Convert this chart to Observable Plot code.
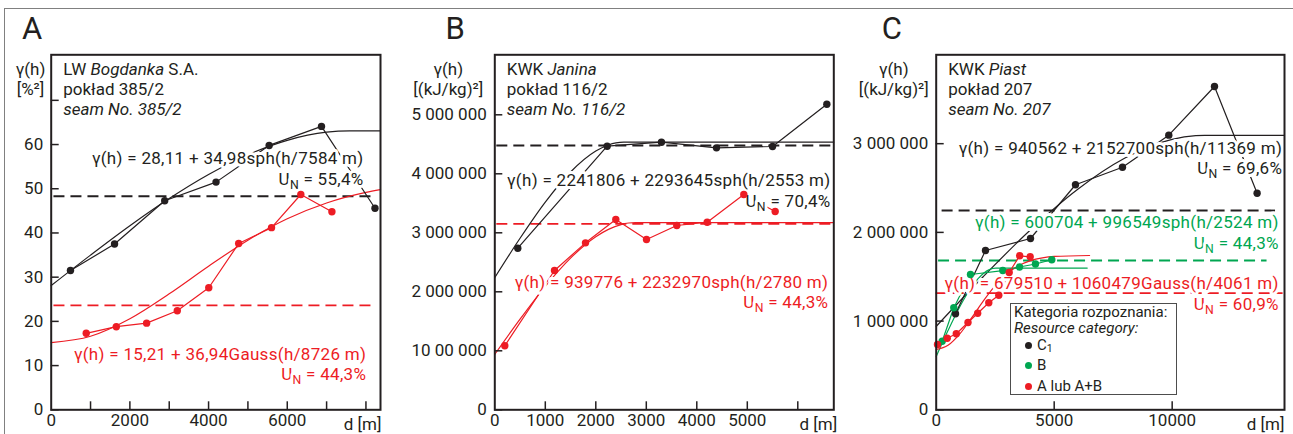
<!DOCTYPE html>
<html><head><meta charset="utf-8">
<script src="https://cdn.jsdelivr.net/npm/d3@7"></script>
<script src="https://cdn.jsdelivr.net/npm/@observablehq/plot@0.6"></script>
<style>
html,body{margin:0;padding:0;background:#fff;}
#wrap{position:relative;width:1293px;height:434px;overflow:hidden;font-family:Roboto,sans-serif;color:#231f20;}
#wrap svg{position:absolute;left:0;top:0;}
#border{position:absolute;left:4px;top:8px;width:1400px;height:500px;border-top:1.5px solid #808080;border-left:1.5px solid #808080;}
.legend{position:absolute;left:1010px;top:303px;width:167px;height:92px;border:1.3px solid #4d4d4d;background:#fff;box-sizing:border-box;font-size:15px;z-index:5;}
.legend .ln{position:absolute;left:3px;line-height:15px;white-space:nowrap;}
.legend .dot{position:absolute;left:14px;width:7px;height:7px;border-radius:50%;}
.legend sub{font-size:70%;line-height:0;vertical-align:-2px;}
</style></head>
<body>
<div id="wrap"><div id="border"></div></div>
<script>
const BLACK = "#231f20", RED = "#ed1c24", GREEN = "#00a651";

// ---------- Panel A: LW Bogdanka, seam 385/2 ----------
const aLagC1   = [490, 1610, 2885, 4190, 5540, 6870, 8230];
const aGammaC1 = [31.5, 37.5, 47.3, 51.5, 59.8, 64.1, 45.6];
const aLagA    = [890, 1655, 2425, 3205, 4005, 4765, 5600, 6345, 7135];
const aGammaA  = [17.3, 18.8, 19.6, 22.4, 27.6, 37.6, 41.2, 48.7, 44.8];
const aFitLagC1 = [0, 1000, 2000, 3000, 4000, 5000, 6000, 7000, 7584, 8370];
const aFitC1    = [28.11, 34.99, 41.63, 47.78, 53.22, 57.69, 60.96, 62.79, 63.09, 63.09];
const aFitLagA  = [0, 1000, 2000, 3000, 4000, 5000, 6000, 7000, 8000, 8370];
const aFitA     = [15.21, 16.64, 20.60, 26.24, 32.48, 38.36, 43.21, 46.79, 49.18, 49.81];
const aVariance = [48.3, 23.6];            // C1, A
const aVarSpan  = [70, 8130];
const aYTicks   = [0, 10, 20, 30, 40, 50, 60, 70];
const aYLabels  = [0, 10, 20, 30, 40, 50, 60];
const aXTicks   = [1000, 2000, 3000, 4000, 5000, 6000, 7000, 8000];
const aXLabels  = [0, 2000, 4000, 6000];

// ---------- Panel B: KWK Janina, seam 116/2 ----------
const bLagC1   = [455, 2225, 3300, 4390, 5500, 6575];
const bGammaC1 = [2739000, 4468000, 4536000, 4440000, 4463000, 5180000];
const bLagA    = [198, 1182, 1796, 2396, 3004, 3604, 4206, 4931, 5552];
const bGammaA  = [1085000, 2361000, 2830000, 3225000, 2886000, 3124000, 3180000, 3649000, 3361000];
const bFitLagC1 = [0, 500, 1000, 1500, 2000, 2250, 2400, 2553, 6710];
const bFitC1    = [2241806, 2907000, 3520500, 4030600, 4385700, 4488900, 4523300, 4535451, 4535451];
const bFitLagA  = [0, 500, 1000, 1500, 2000, 2250, 2500, 2650, 2780, 6710];
const bFitA     = [939776, 1535800, 2092700, 2571700, 2933800, 3058700, 3139900, 3165700, 3172746, 3172746];
const bVariance = [4480000, 3150000];
const bVarSpan  = [40, 6710];
const bYTicks   = [0, 1000000, 2000000, 3000000, 4000000, 5000000];
const bYLabels  = ["0", "10 00 000", "2 000 000", "3 000 000", "4 000 000", "5 000 000"];
const bXTicks   = [1000, 2000, 3000, 4000, 5000, 6000];
const bXLabels  = [0, 1000, 2000, 3000, 4000, 5000];

// ---------- Panel C: KWK Piast, seam 207 ----------
const cLagC1   = [818, 2089, 3996, 5903, 7894, 9857, 11793, 13600];
const cGammaC1 = [1082000, 1796000, 1931000, 2537000, 2735000, 3096000, 3645000, 2442000];
const cLagB    = [254, 746, 1453, 2822, 3530, 4207, 4898];
const cGammaB  = [773000, 1150000, 1525000, 1570000, 1610000, 1644000, 1692000];
const cLagA    = [55, 466, 852, 1347, 1758, 2229, 2652, 3093, 3538, 3983];
const cGammaA  = [736000, 806000, 857000, 984000, 1089000, 1207000, 1292000, 1548000, 1736000, 1725000];
const cFitLagC1 = [0, 2000, 4000, 6000, 8000, 9000, 10000, 11000, 11369, 14760];
const cFitC1    = [940562, 1502800, 2029900, 2486500, 2837700, 2962800, 3048300, 3090000, 3093262, 3093262];
const cFitLagB  = [0, 500, 1000, 1500, 2000, 2250, 2524, 6400];
const cFitB     = [600704, 892900, 1162000, 1384500, 1537300, 1580200, 1597253, 1597253];
const cFitLagA  = [0, 500, 1000, 1500, 2000, 2500, 3000, 3500, 4000, 4500, 5000, 6500];
const cFitA     = [679510, 726700, 855900, 1035700, 1227700, 1399800, 1533700, 1625800, 1682300, 1713300, 1728800, 1739600];
const cVariance = [2247000, 1683000, 1315000];   // C1, B, A
const cVarSpans = [[250, 14380], [100, 14020], [0, 14700]];
const cYTicks   = [0, 1000000, 2000000, 3000000];
const cYLabels  = ["0", "1 000 000", "2 000 000", "3 000 000"];
const cXTicks   = [5000, 10000];
const cXLabels  = [0, 5000, 10000];

const legendCategories = ["C_1", "B", "A lub A+B"];
const legendColors = [BLACK, GREEN, RED];

const rows = (xs, ys) => xs.map((x, i) => ({x, y: ys[i]}));

const TOP = 54.3, BOTTOM = 24.7, H = 434, W = 1293;
const FRAME_H = H - TOP - BOTTOM;
const FS = 17;

function ann(x, y, text, fill) {
  return Plot.text([{x, y, text}], {x: "x", y: "y", text: "text", fill, textAnchor: "end",
    fontSize: FS, stroke: "white", strokeWidth: 6, paintOrder: "stroke", lineAnchor: "middle"});
}
function fixed(text, opts) {
  return Plot.text([text], {text: d => d, frameAnchor: "top-left", textAnchor: "start", lineAnchor: "middle", fill: BLACK, fontSize: 17, ...opts});
}
function dashed(v, span, stroke) {
  return Plot.ruleY([v], {y: d => d, x1: span[0], x2: span[1], stroke, strokeWidth: 1.8, strokeDasharray: "11,6"});
}
function fit(xs, ys, stroke) {
  return Plot.line(rows(xs, ys), {x: "x", y: "y", stroke, strokeWidth: 1.2, curve: "monotone-x"});
}
function poly(xs, ys, stroke) {
  return [Plot.line(rows(xs, ys), {x: "x", y: "y", stroke, strokeWidth: 1.2})];
}
function dots(xs, ys, fill) {
  return Plot.dot(rows(xs, ys), {x: "x", y: "y", r: 3.7, fill, stroke: "none"});
}

function panel({left, right, xDomain, yDomain, xTicks, xLabels, yTicks, yLabels, yFormat, back, front, letter, letterDx, unit, unitDx, head, dmDx}) {
  const frameW = right - left;
  return Plot.plot({
    width: W, height: H,
    marginLeft: left, marginRight: W - right, marginTop: TOP, marginBottom: BOTTOM,
    x: {domain: xDomain, label: null},
    y: {domain: yDomain, label: null},
    style: {background: "none", overflow: "visible", fontFamily: "Roboto, sans-serif", fontSize: "17px", color: BLACK},
    marks: [
      ...back,
      Plot.axisX(xLabels, {anchor: "bottom", tickSize: 0, tickPadding: 4, fontSize: FS, tickFormat: d => String(d), label: null}),
      Plot.axisY(yLabels.map((_, i) => yTicks[i]), {anchor: "left", tickSize: 0, tickPadding: 8, fontSize: FS, tickFormat: yFormat, label: null}),
      Plot.tickX(xTicks, {x: d => d, insetTop: FRAME_H - 8, stroke: BLACK, strokeWidth: 1.5}),
      Plot.tickY(yTicks, {y: d => d, insetRight: frameW - 8, stroke: BLACK, strokeWidth: 1.5}),
      ...front,
      fixed(head[0], {dx: 12, dy: 14.7}),
      fixed(head[1], {dx: 12, dy: 34.7}),
      fixed(head[2], {dx: 12, dy: 54.7, fontStyle: "italic"}),
      fixed("γ(h)", {dx: unitDx, dy: 14.7, textAnchor: "middle"}),
      fixed(unit, {dx: unitDx, dy: 34.7, textAnchor: "middle"}),
      fixed(letter, {dx: letterDx, dy: -25.5, textAnchor: "middle", fontSize: 31}),
      Plot.text(["d [m]"], {text: d => d, frameAnchor: "bottom-right", textAnchor: "end", lineAnchor: "middle", dx: dmDx, dy: 14.7, fontSize: FS, fill: BLACK}),
      Plot.frame({stroke: BLACK, strokeWidth: 2})
    ]
  });
}

const aY = new Map(aYLabels.map(v => [v, String(v)]));
const bY = new Map(bYTicks.map((v, i) => [v, bYLabels[i]]));
const cY = new Map(cYTicks.map((v, i) => [v, cYLabels[i]]));

const plotA = panel({
  left: 50.7, right: 380, xDomain: [0, 8370], yDomain: [0, 80.3],
  xTicks: aXTicks, xLabels: aXLabels, yTicks: aYTicks, yLabels: aYLabels, yFormat: d => aY.get(d),
  back: [
    dashed(aVariance[0], aVarSpan, BLACK), dashed(aVariance[1], aVarSpan, RED),
    fit(aFitLagC1, aFitC1, BLACK), fit(aFitLagA, aFitA, RED),
    ...poly(aLagC1, aGammaC1, BLACK), ...poly(aLagA, aGammaA, RED)
  ],
  front: [
    ann(7939, 56.8, "γ(h) = 28,11 + 34,98sph(h/7584 m)", BLACK),
    ann(7939, 52.1, "U_N = 55,4%", BLACK),
    ann(8007, 12.5, "γ(h) = 15,21 + 36,94Gauss(h/8726 m)", RED),
    ann(8007, 8.0, "U_N = 44,3%", RED),
    dots(aLagC1, aGammaC1, BLACK), dots(aLagA, aGammaA, RED)
  ],
  letter: "A", letterDx: -19, unit: "[%²]", unitDx: -20.7,
  head: ["LW {Bogdanka} S.A.", "pokład 385/2", "seam No. 385/2"], dmDx: 1
});

const plotB = panel({
  left: 494.3, right: 833.3, xDomain: [0, 6713], yDomain: [0, 6017000],
  xTicks: bXTicks, xLabels: bXLabels, yTicks: bYTicks, yLabels: bYLabels, yFormat: d => bY.get(d),
  back: [
    dashed(bVariance[0], bVarSpan, BLACK), dashed(bVariance[1], bVarSpan, RED),
    fit(bFitLagC1, bFitC1, BLACK), fit(bFitLagA, bFitA, RED),
    ...poly(bLagC1, bGammaC1, BLACK), ...poly(bLagA, bGammaA, RED)
  ],
  front: [
    ann(6648, 3886000, "γ(h) = 2241806 + 2293645sph(h/2553 m)", BLACK),
    ann(6648, 3530000, "U_N = 70,4%", BLACK),
    ann(6604, 2158000, "γ(h) = 939776 + 2232970sph(h/2780 m)", RED),
    ann(6604, 1810000, "U_N = 44,3%", RED),
    dots(bLagC1, bGammaC1, BLACK), dots(bLagA, bGammaA, RED)
  ],
  letter: "B", letterDx: -39.6, unit: "[(kJ/kg)²]", unitDx: -46.5,
  head: ["KWK {Janina}", "pokład 116/2", "seam No. 116/2"], dmDx: 3.4
});

const plotC = panel({
  left: 935.7, right: 1284, xDomain: [0, 14760], yDomain: [0, 4002000],
  xTicks: cXTicks, xLabels: cXLabels, yTicks: cYTicks, yLabels: cYLabels, yFormat: d => cY.get(d),
  back: [
    dashed(cVariance[0], cVarSpans[0], BLACK), dashed(cVariance[1], cVarSpans[1], GREEN), dashed(cVariance[2], cVarSpans[2], RED),
    fit(cFitLagC1, cFitC1, BLACK), fit(cFitLagB, cFitB, GREEN), fit(cFitLagA, cFitA, RED),
    ...poly(cLagC1, cGammaC1, BLACK), ...poly(cLagB, cGammaB, GREEN), ...poly(cLagA, cGammaA, RED)
  ],
  front: [
    ann(14660, 2946000, "γ(h) = 940562 + 2152700sph(h/11369 m)", BLACK),
    ann(14660, 2715000, "U_N = 69,6%", BLACK),
    ann(14516, 2106000, "γ(h) = 600704 + 996549sph(h/2524 m)", GREEN),
    ann(14516, 1875000, "U_N = 44,3%", GREEN),
    ann(14516, 1420000, "γ(h) = 679510 + 1060479Gauss(h/4061 m)", RED),
    ann(14516, 1192000, "U_N = 60,9%", RED),
    dots(cLagC1, cGammaC1, BLACK), dots(cLagB, cGammaB, GREEN), dots(cLagA, cGammaA, RED)
  ],
  letter: "C", letterDx: -44.4, unit: "[(kJ/kg)²]", unitDx: -42.4,
  head: ["KWK {Piast}", "pokład 207", "seam No. 207"], dmDx: 0
});

const svgNS = "http://www.w3.org/2000/svg";
function richify(el) {
  const s = el.textContent;
  if (s.startsWith("γ(h) =") || s.startsWith("U_N")) el.style.letterSpacing = "0.3px";
  if (!/[_{]/.test(s)) return;
  while (el.firstChild) el.removeChild(el.firstChild);
  const re = /\{([^}]*)\}|_(.)/g;
  let last = 0, m, shifted = false;
  const add = (txt, attrs) => {
    const t = document.createElementNS(svgNS, "tspan");
    for (const k in attrs) t.setAttribute(k, attrs[k]);
    t.textContent = txt; el.appendChild(t);
  };
  while ((m = re.exec(s))) {
    if (m.index > last) { add(s.slice(last, m.index), shifted ? {dy: "-4"} : {}); shifted = false; }
    if (m[1] !== undefined) add(m[1], {"font-style": "italic"});
    else { add(m[2], {"font-size": "72%", dy: "4"}); shifted = true; }
    last = re.lastIndex;
  }
  if (last < s.length) add(s.slice(last), shifted ? {dy: "-4"} : {});
}

const wrap = document.getElementById("wrap");
for (const p of [plotA, plotB, plotC]) {
  wrap.appendChild(p);
  p.querySelectorAll("text").forEach(richify);
}

// legend
const lg = document.createElement("div");
lg.className = "legend";
const rowCenters = [41.7, 61.7, 82.7];
lg.innerHTML = `<div class="ln" style="top:1px">Kategoria rozpoznania:</div>
<div class="ln" style="top:16.5px;font-style:italic">Resource category:</div>` +
  legendCategories.map((c, i) => {
    const mid = rowCenters[i];
    const label = c.replace(/_(.)/, "<sub>$1</sub>");
    return `<span class="dot" style="top:${mid - 3.5}px;background:${legendColors[i]}"></span><div class="ln" style="top:${mid - 7.5}px;left:26px">${label}</div>`;
  }).join("");
wrap.appendChild(lg);
</script>
</body></html>
